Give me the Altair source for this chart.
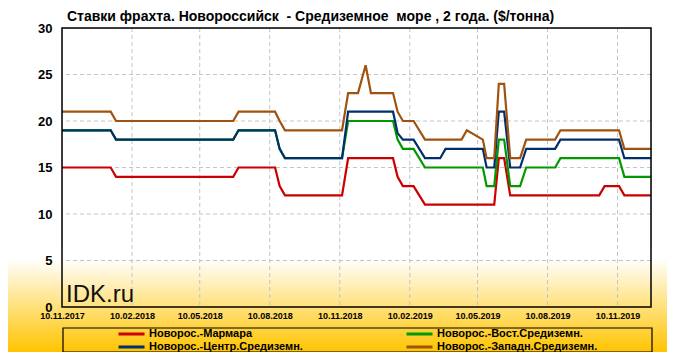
import altair as alt
import pandas as pd

# ---- data (breakpoints) ----
dates = ["2017-11-10", "2018-01-13", "2018-01-20", "2018-06-23", "2018-06-30",
         "2018-08-17", "2018-08-23", "2018-08-30", "2018-11-13", "2018-11-21",
         "2018-12-04", "2018-12-14", "2018-12-21", "2019-01-19", "2019-01-25",
         "2019-02-01", "2019-02-15", "2019-03-02", "2019-03-22", "2019-03-29",
         "2019-04-19", "2019-04-26", "2019-05-17", "2019-05-22", "2019-06-01",
         "2019-06-07", "2019-06-14", "2019-06-22", "2019-07-05", "2019-07-13",
         "2019-08-20", "2019-08-27", "2019-10-17", "2019-10-24", "2019-11-12",
         "2019-11-19", "2019-12-24"]

marmara = [15, 15, 14, 14, 15, 15, 13, 12, 12, 16, 16, 16, 16, 16, 14, 13, 13, 11, 11, 11,
           11, 11, 11, 11, 11, 16, 16, 12, 12, 12, 12, 12, 12, 13, 13, 12, 12]
east = [19, 19, 18, 18, 19, 19, 17, 16, 16, 20, 20, 20, 20, 20, 18, 17, 17, 15, 15, 15,
        15, 15, 15, 13, 13, 18, 18, 13, 13, 15, 15, 16, 16, 16, 16, 14, 14]
central = [19, 19, 18, 18, 19, 19, 17, 16, 16, 21, 21, 21, 21, 21, 18.7, 18, 18, 16, 16, 17,
           17, 17, 17, 15, 15, 21, 21, 15, 15, 17, 17, 18, 18, 18, 18, 16, 16]
west = [21, 21, 20, 20, 21, 21, 20, 19, 19, 23, 23, 26, 23, 23, 21, 20, 20, 18, 18, 18,
        18, 19, 18, 16, 16, 24, 24, 16, 16, 18, 18, 19, 19, 19, 19, 17, 17]

# drawing order (bottom to top)
series_names = ["Новорос.-Мармара", "Новорос.-Вост.Средиземн.",
                "Новорос.-Центр.Средиземн.", "Новорос.-Западн.Средиземн."]
series_values = [marmara, east, central, west]
series_colors = ["#cc0000", "#009900", "#002f6c", "#a0520f"]
# legend order (column-major fill -> two rows of two)
legend_order = [series_names[0], series_names[2], series_names[1], series_names[3]]
legend_colors = [series_colors[0], series_colors[2], series_colors[1], series_colors[3]]

tick_dates = ["2017-11-10", "2018-02-10", "2018-05-10", "2018-08-10", "2018-11-10",
              "2019-02-10", "2019-05-10", "2019-08-10", "2019-11-10"]
y_ticks = [0, 5, 10, 15, 20, 25, 30]

title_text = "Ставки фрахта. Новороссийск\u00a0 - Средиземное\u00a0 море , 2 года. ($/тонна)"
watermark = "IDK.ru"

rows = []
for name, vals in zip(series_names, series_values):
    for d, v in zip(dates, vals):
        rows.append({"date": d, "value": v, "series": name})
df = pd.DataFrame(rows)

W, H = 589, 279


def dt(s):
    y, m, d = s.split("-")
    return alt.DateTime(year=int(y), month=int(m), date=int(d))


x_scale = alt.Scale(domain=[dt(dates[0]), dt(dates[-1])])
y_scale = alt.Scale(domain=[0, 30], nice=False)

x_enc = alt.X("date:T", scale=x_scale,
              axis=alt.Axis(values=[dt(t) for t in tick_dates], format="%d.%m.%Y",
                            title=None, labelFontSize=9, labelFontWeight="bold",
                            labelFont="Liberation Sans", labelColor="#000000",
                            labelPadding=4, ticks=False, domain=False, grid=False,
                            labelOverlap=False, labelFlush=False, zindex=1))
y_enc = alt.Y("value:Q", scale=y_scale,
              axis=alt.Axis(values=y_ticks, title=None, labelFontSize=13,
                            labelFontWeight="bold", labelFont="Liberation Sans",
                            labelColor="#000000", labelPadding=10, ticks=False,
                            domain=False, grid=False, zindex=1))
color_enc = alt.Color("series:N",
                      scale=alt.Scale(domain=legend_order, range=legend_colors),
                      legend=alt.Legend(title=None, orient="none", legendX=55,
                                        legendY=299, columns=2, columnPadding=97,
                                        rowPadding=0, symbolType="M-1,0H3.73",
                                        symbolSize=121, symbolStrokeWidth=3,
                                        symbolFillColor="transparent",
                                        labelFont="Liberation Sans", labelFontSize=11,
                                        labelFontWeight="bold", labelColor="#000000",
                                        labelOffset=18, labelLimit=400, padding=0,
                                        zindex=1))

one = pd.DataFrame({"a": [0]})

bg = alt.Chart(one).mark_rect(
    fill=alt.Gradient(gradient="linear",
                      stops=[alt.GradientStop(color="#ffffff", offset=0),
                             alt.GradientStop(color="#ffffff", offset=0.1),
                             alt.GradientStop(color="#ffc400", offset=1)],
                      x1=0, x2=0, y1=0, y2=1)
).encode(x=alt.value(-54), x2=alt.value(W + 16), y=alt.value(220), y2=alt.value(H + 45))

ygrid = alt.Chart(pd.DataFrame({"v": y_ticks[1:-1]})).mark_rule(
    color="#c4c4c4", strokeDash=[4, 3], strokeWidth=1
).encode(y=alt.Y("v:Q", scale=y_scale))
xgrid = alt.Chart(pd.DataFrame({"d": tick_dates[1:]})).mark_rule(
    color="#c4c4c4", strokeDash=[4, 3], strokeWidth=1
).encode(x=alt.X("d:T", scale=x_scale))

frame = alt.Chart(one).mark_rect(
    fill=None, stroke="#000000", strokeWidth=1.5
).encode(x=alt.value(0), x2=alt.value(W), y=alt.value(0), y2=alt.value(H))

legend_box = alt.Chart(one).mark_rect(
    fill=None, stroke="#000000", strokeWidth=1.2
).encode(x=alt.value(1), x2=alt.value(W + 1), y=alt.value(300), y2=alt.value(324))

wm = alt.Chart(pd.DataFrame({"t": [watermark]})).mark_text(
    align="left", baseline="alphabetic", font="Liberation Sans", fontSize=24,
    color="#111111"
).encode(text="t:N", x=alt.value(4), y=alt.value(274))

title = alt.Chart(pd.DataFrame({"t": [title_text]})).mark_text(
    align="left", baseline="alphabetic", font="Liberation Sans", fontSize=14,
    fontWeight="bold", color="#000000"
).encode(text="t:N", x=alt.value(5), y=alt.value(-7))

lines = []
for name in series_names:
    lines.append(
        alt.Chart(df).transform_filter(alt.datum.series == name)
        .mark_line(strokeWidth=2.2, interpolate="linear")
        .encode(x=x_enc, y=y_enc, color=color_enc)
    )

chart = alt.layer(bg, ygrid, xgrid, wm, *lines, frame, legend_box, title).properties(
    width=W, height=H,
    padding={"left": 54, "top": 20, "right": 16, "bottom": 45},
    autosize=alt.AutoSizeParams(type="none"),
).configure_view(stroke=None).configure(background="#ffffff")

chart.save("out.html", embed_options={"renderer": "svg", "actions": False})
